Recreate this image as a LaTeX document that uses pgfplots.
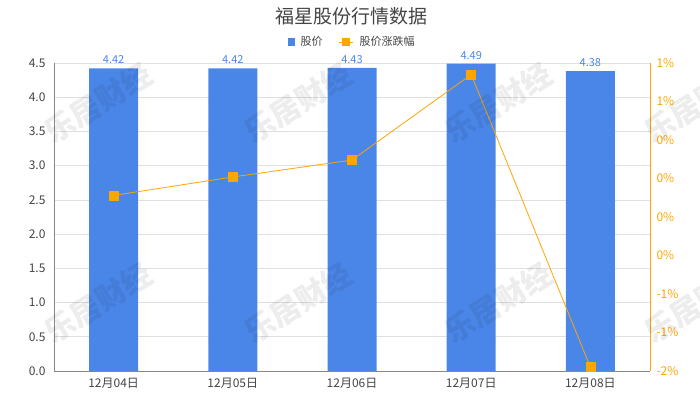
\documentclass[border=0pt]{standalone}
\usepackage{pgfplots}
\pgfplotsset{compat=1.18}
\usepackage{fontspec}
\setmainfont{Noto Sans CJK SC}
\definecolor{barblue}{HTML}{4A86E8}
\definecolor{lineorange}{HTML}{FFA500}
\definecolor{txtgray}{HTML}{444444}
\definecolor{gridgray}{HTML}{E0E0E0}
\definecolor{axgray}{HTML}{888888}
\begin{document}
\begin{tikzpicture}[x=1pt,y=1pt]
\useasboundingbox (0,0) rectangle (700,400);
\node[font=\fontsize{19}{21}\selectfont, text=txtgray] at (351,384) {福星股份行情数据};
\begin{axis}[
  at={(54pt,29pt)}, anchor=south west, scale only axis, width=596pt, height=308pt,
  xmin=-0.5, xmax=4.5, ymin=0, ymax=4.5,
  axis x line*=bottom, axis y line*=left, axis line style={axgray, -},
  xtick={0,1,2,3,4}, xticklabels={12月04日,12月05日,12月06日,12月07日,12月08日},
  ytick={0,0.5,1,1.5,2,2.5,3,3.5,4,4.5},
  yticklabel style={xshift=-5pt, /pgf/number format/.cd, fixed, fixed zerofill, precision=1},
  xticklabel style={yshift=-4pt},
  /pgf/number format/assume math mode=true,
  ymajorgrids, grid style={gridgray, line width=0.6pt},
  major tick length=0pt,
  tick label style={font=\fontsize{12}{14}\selectfont, text=txtgray},
  clip=false,
  legend style={at={(0.5,1)}, anchor=center, yshift=21pt, draw=none, fill=none,
    legend columns=2, font=\fontsize{11}{13}\selectfont, text=txtgray,
    /tikz/every odd column/.append style={column sep=4pt},
    /tikz/every even column/.append style={column sep=14pt}},
]
\addplot[ybar, bar width=49pt, fill=barblue, draw=none,
  nodes near coords, every node near coord/.append style={text=barblue, font=\fontsize{11}{13}\selectfont, yshift=1pt},
  legend image code/.code={\fill[barblue] (2pt,-4pt) rectangle (9pt,4pt);}]
  coordinates {(0,4.42) (1,4.42) (2,4.43) (3,4.49) (4,4.38)};
\addlegendentry{股价}
\addlegendimage{legend image code/.code={\draw[lineorange, line width=1pt] (0pt,0pt)--(14pt,0pt); \fill[lineorange] (3.5pt,-3.5pt) rectangle (10.5pt,3.5pt);}}
\addlegendentry{股价涨跌幅}
\end{axis}
\begin{axis}[
  at={(54pt,29pt)}, anchor=south west, scale only axis, width=596pt, height=308pt,
  xmin=-0.5, xmax=4.5, ymin=-2.5, ymax=1.5,
  axis x line=none, axis y line*=right, axis line style={lineorange, -},
  ytick={-2.5,-2,-1.5,-1,-0.5,0,0.5,1,1.5},
  yticklabels={-2\%,-1\%,-1\%,0\%,0\%,0\%,0\%,1\%,1\%},
  yticklabel style={xshift=3pt},
  major tick length=0pt,
  tick label style={font=\fontsize{12}{14}\selectfont, text=lineorange},
  clip=false,
]
\addplot[lineorange, line width=0.8pt, mark=square*, mark size=4.5pt, mark options={fill=lineorange, draw=lineorange}]
  coordinates {(0,-0.22) (1,0.02) (2,0.24) (3,1.35) (4,-2.45)};
\end{axis}
\foreach \xx in {98,298,498,698} {
  \foreach \yy in {297,97} {
    \node[rotate=32, font=\bfseries\fontsize{30}{32}\selectfont, text=black, opacity=0.07] at (\xx,\yy) {乐居财经};
  }
}
\end{tikzpicture}
\end{document}
